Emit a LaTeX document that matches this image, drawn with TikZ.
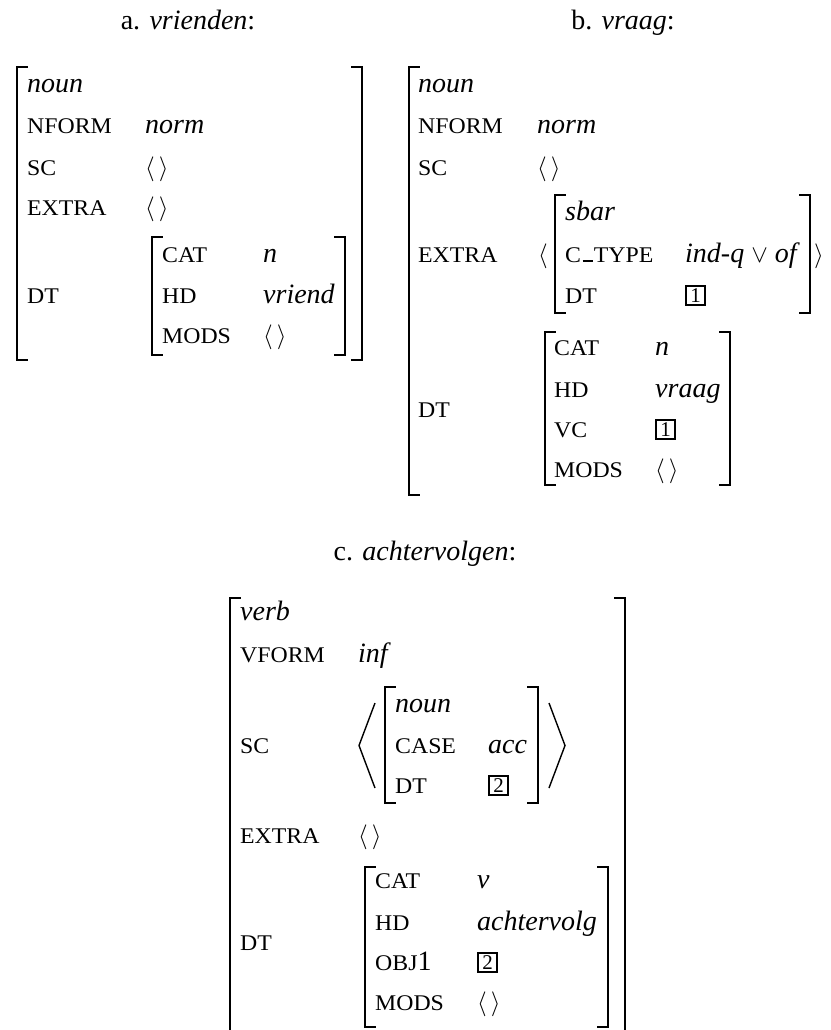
\documentclass[tikz,border=0pt]{standalone}
\usepackage{fontspec}
\usepackage{graphicx}
\setmainfont{Liberation Serif}
% feature names in (synthetic) small capitals
\newcommand{\fsc}[1]{\scalebox{0.85}[0.8]{#1}}
% low line sitting on the baseline, as in C_TYPE
\newcommand{\lowbar}{\kern0.06em\rule{0.42em}{0.085em}\kern0.06em}
\newcommand{\emptylist}{{\fontsize{24}{28}\selectfont$\langle\,\rangle$}}
% square brackets of an attribute-value matrix: x, top, bottom
\newcommand{\lbrk}[3]{\draw[brk] ({#1+10},#2) -- (#1,#2) -- (#1,#3) -- ({#1+10},#3);}
\newcommand{\rbrk}[3]{\draw[brk] ({#1-10},#2) -- (#1,#2) -- (#1,#3) -- ({#1-10},#3);}
\tikzset{
  txt/.style={inner sep=0pt, anchor=base west, font=\fontsize{28}{34}\selectfont},
  ttl/.style={inner sep=0pt, anchor=base, font=\fontsize{28}{34}\selectfont},
  brk/.style={line width=2.4pt, line cap=rect},
  ang/.style={line width=1.4pt},
  tagbox/.style={draw, line width=2.3pt, inner sep=0pt, minimum width=19pt,
    minimum height=19pt, anchor=south west, font=\fontsize{21}{24}\selectfont}
}
\begin{document}
\begin{tikzpicture}[x=1pt, y=-1pt]
\useasboundingbox (0,0) rectangle (830,1030);

% ---------- a. vrienden ----------
\node[ttl] (ta) at (188,30) {a. \textit{vrienden}:};
\lbrk{17}{67}{360}
\rbrk{362}{67}{360}
\node[txt] (a-type) at (27,93) {\textit{noun}};
\node[txt] (a-nf)   at (27,133) {\fsc{NFORM}};
\node[txt] (a-nfv)  at (145,133) {\textit{norm}};
\node[txt] (a-sc)   at (27,175) {\fsc{SC}};
\node[txt] (a-scv)  at (145,175) {\emptylist};
\node[txt] (a-ex)   at (27,215) {\fsc{EXTRA}};
\node[txt] (a-exv)  at (145,215) {\emptylist};
\node[txt] (a-dt)   at (27,303) {\fsc{DT}};
\lbrk{152}{237}{355}
\rbrk{345}{237}{355}
\node[txt] (a-cat)  at (162,262) {\fsc{CAT}};
\node[txt] (a-catv) at (263,262) {\textit{n}};
\node[txt] (a-hd)   at (162,303) {\fsc{HD}};
\node[txt] (a-hdv)  at (263,303) {\textit{vriend}};
\node[txt] (a-md)   at (162,343) {\fsc{MODS}};
\node[txt] (a-mdv)  at (263,343) {\emptylist};

% ---------- b. vraag ----------
\node[ttl] (tb) at (623,30) {b. \textit{vraag}:};
\lbrk{409}{67}{495}
\node[txt] (b-type) at (418,93) {\textit{noun}};
\node[txt] (b-nf)   at (418,133) {\fsc{NFORM}};
\node[txt] (b-nfv)  at (537,133) {\textit{norm}};
\node[txt] (b-sc)   at (418,175) {\fsc{SC}};
\node[txt] (b-scv)  at (537,175) {\emptylist};
\node[txt] (b-ex)   at (418,262) {\fsc{EXTRA}};
\node[txt] (b-exl)  at (538,262) {{\fontsize{24}{28}\selectfont$\langle$}};
\lbrk{555}{195}{313}
\rbrk{810}{195}{313}
\node[txt] (b-exr)  at (814,262) {{\fontsize{24}{28}\selectfont$\rangle$}};
\node[txt] (b-sbar) at (565,220) {\textit{sbar}};
\node[txt] (b-ct)   at (565,262) {\fsc{C\lowbar TYPE}};
\node[txt] (b-ctv)  at (685,262) {\textit{ind-q} $\vee$ \textit{of}};
\node[txt] (b-edt)  at (565,303) {\fsc{DT}};
\node[tagbox] (b-t1) at (685,306) {1};
\node[txt] (b-dt)   at (418,417) {\fsc{DT}};
\lbrk{545}{332}{485}
\rbrk{730}{332}{485}
\node[txt] (b-cat)  at (554,355) {\fsc{CAT}};
\node[txt] (b-catv) at (655,355) {\textit{n}};
\node[txt] (b-hd)   at (554,397) {\fsc{HD}};
\node[txt] (b-hdv)  at (655,397) {\textit{vraag}};
\node[txt] (b-vc)   at (554,437) {\fsc{VC}};
\node[tagbox] (b-t2) at (655,440) {1};
\node[txt] (b-md)   at (554,477) {\fsc{MODS}};
\node[txt] (b-mdv)  at (655,477) {\emptylist};

% ---------- c. achtervolgen ----------
\node[ttl] (tc) at (425,560) {c. \textit{achtervolgen}:};
\draw[brk] (240,598) -- (230,598) -- (230,1032);
\draw[brk] (615,598) -- (625,598) -- (625,1032);
\node[txt] (c-type) at (240,620) {\textit{verb}};
\node[txt] (c-vf)   at (240,662) {\fsc{VFORM}};
\node[txt] (c-vfv)  at (358,662) {\textit{inf}};
\node[txt] (c-sc)   at (240,753) {\fsc{SC}};
\draw[ang] (375,703) -- (359,745.5) -- (375,788);
\lbrk{385}{687}{803}
\rbrk{538}{687}{803}
\draw[ang] (549,703) -- (565,745.5) -- (549,788);
\node[txt] (c-np)   at (395,712) {\textit{noun}};
\node[txt] (c-case) at (395,753) {\fsc{CASE}};
\node[txt] (c-casv) at (488,753) {\textit{acc}};
\node[txt] (c-ndt)  at (395,793) {\fsc{DT}};
\node[tagbox] (c-t1) at (488,796) {2};
\node[txt] (c-ex)   at (240,843) {\fsc{EXTRA}};
\node[txt] (c-exv)  at (358,843) {\emptylist};
\node[txt] (c-dt)   at (240,950) {\fsc{DT}};
\lbrk{365}{867}{1027}
\rbrk{608}{867}{1027}
\node[txt] (c-cat)  at (375,888) {\fsc{CAT}};
\node[txt] (c-catv) at (477,888) {\textit{v}};
\node[txt] (c-hd)   at (375,930) {\fsc{HD}};
\node[txt] (c-hdv)  at (477,930) {\textit{achtervolg}};
\node[txt] (c-obj)  at (375,970) {\fsc{OBJ}1};
\node[tagbox] (c-t2) at (477,973) {2};
\node[txt] (c-md)   at (375,1010) {\fsc{MODS}};
\node[txt] (c-mdv)  at (477,1010) {\emptylist};
\end{tikzpicture}
\end{document}
